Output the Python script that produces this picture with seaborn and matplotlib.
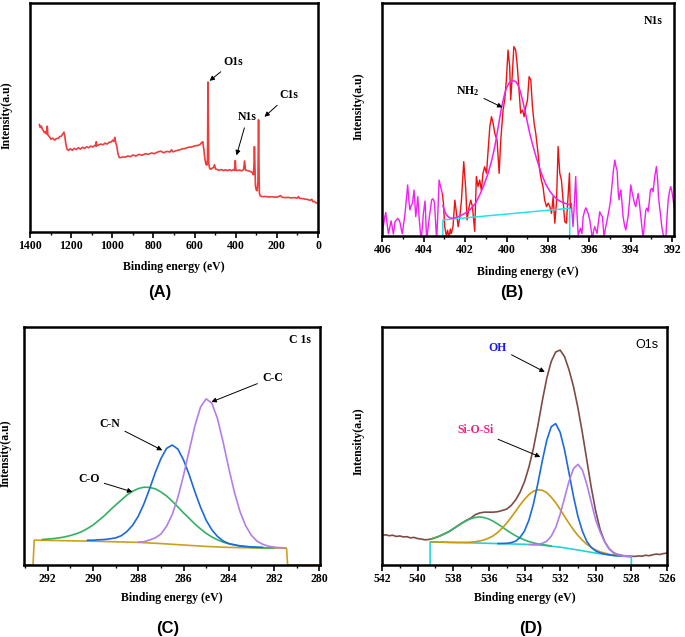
import numpy as np
import matplotlib
matplotlib.use("Agg")
import matplotlib.pyplot as plt
import seaborn as sns
from matplotlib.ticker import MultipleLocator

# ---------------- (A) survey spectrum ----------------
survey_energy = [1355, 1350, 1345, 1340, 1335, 1330, 1325, 1320, 1316, 1313,
                 1305, 1298, 1290, 1280, 1272, 1262, 1255, 1248, 1240, 1235,
                 1231, 1226, 1220, 1212, 1204, 1195, 1185, 1175, 1165, 1155,
                 1145, 1135, 1125, 1115, 1105, 1095, 1086, 1080, 1078, 1075,
                 1065, 1055, 1045, 1035, 1025, 1015, 1005, 998, 992, 988,
                 983, 978, 972, 966, 958, 948, 938, 925, 912, 900,
                 885, 870, 855, 840, 825, 810, 795, 780, 765, 750,
                 735, 720, 712, 705, 690, 675, 660, 645, 630, 615,
                 600, 585, 575, 566, 560, 555, 550, 545, 540, 537,
                 535, 533, 531, 527, 520, 515, 508, 503, 498, 490,
                 480, 470, 460, 450, 440, 430, 420, 410, 405, 402,
                 399, 392, 382, 372, 362, 357, 352, 342, 332, 325,
                 318, 314, 311, 309, 307, 304, 300, 296, 292, 290,
                 289, 287, 285, 281, 276, 270, 255, 240, 225, 210,
                 195, 182, 175, 160, 145, 130, 115, 100, 95, 90,
                 75, 60, 50, 40, 30, 25, 18, 10, 2]
survey_counts = [47.0, 45.6, 46.3, 44.9, 44.2, 43.4, 43.9, 42.8, 46.2, 42.3,
                 41.6, 40.5, 41.0, 40.1, 40.8, 40.9, 41.7, 41.8, 42.9, 43.6,
                 42.0, 38.6, 36.1, 35.6, 36.4, 35.7, 36.5, 36.0, 36.8, 36.2,
                 37.0, 36.5, 37.2, 36.8, 37.5, 37.1, 37.8, 37.5, 39.4, 37.6,
                 38.1, 38.4, 38.1, 38.8, 38.4, 39.2, 39.3, 40.1, 39.5, 41.3,
                 39.0, 37.4, 34.0, 32.5, 32.5, 32.8, 32.6, 33.2, 32.9, 33.6,
                 33.2, 33.9, 33.5, 34.2, 33.9, 34.5, 34.2, 34.9, 35.3, 34.6,
                 35.2, 34.9, 35.9, 35.0, 35.5, 35.8, 36.3, 36.5, 37.0, 37.1,
                 37.6, 37.8, 38.1, 39.0, 39.4, 36.0, 32.0, 29.6, 29.2, 32.0,
                 65.5, 45.0, 30.0, 27.8, 27.4, 27.9, 28.1, 29.4, 27.5, 27.3,
                 26.9, 27.3, 26.8, 27.2, 26.8, 27.2, 26.8, 27.3, 26.9, 31.2,
                 27.1, 26.8, 27.1, 26.7, 27.2, 31.0, 27.0, 26.8, 26.5, 26.3,
                 25.8, 25.0, 30.0, 37.3, 30.0, 20.0, 18.3, 18.0, 22.0, 40.0,
                 49.0, 30.0, 17.0, 15.8, 15.6, 15.4, 15.5, 15.3, 15.4, 15.2,
                 15.3, 15.9, 15.2, 15.0, 15.1, 14.9, 15.0, 14.8, 15.5, 14.7,
                 14.6, 14.3, 14.2, 13.8, 14.3, 13.2, 13.4, 12.8, 12.5]

# ---------------- (B) N1s ----------------
n_left_energy = [406.02, 405.95, 405.88, 405.84, 405.77, 405.71, 405.64, 405.58, 405.52, 405.47,
                 405.39, 405.32, 405.26, 405.20, 405.15, 405.09, 405.04, 404.97, 404.91, 404.84,
                 404.78, 404.72, 404.67, 404.61, 404.55, 404.47, 404.39, 404.34, 404.29, 404.23,
                 404.18, 404.13, 404.07, 404.02, 403.94, 403.86, 403.80, 403.73, 403.62, 403.56,
                 403.49, 403.43, 403.38, 403.32, 403.26, 403.17, 403.10]
n_left_counts = [2.0, 4.5, 8.5, 10.0, 5.0, 1.0, 4.0, 6.5, 3.5, 0.8,
                 6.2, 6.8, 7.6, 7.0, 5.8, 3.0, 1.0, 5.5, 9.5, 16.0,
                 21.9, 15.0, 11.2, 13.0, 14.0, 19.7, 8.3, 12.0, 16.9, 8.3,
                 3.0, -2.0, 4.0, 9.7, 15.0, -2.0, 3.0, 8.3, 15.5, 16.0,
                 14.7, 6.0, -2.0, 10.0, 24.0, 20.4, 18.0]

n_raw_energy = [403.10, 403.05, 402.99, 402.91, 402.85, 402.78, 402.72, 402.67, 402.59, 402.50,
                402.42, 402.34, 402.26, 402.18, 402.07, 401.97, 401.91, 401.81, 401.73, 401.65,
                401.54, 401.46, 401.38, 401.30, 401.22, 401.14, 401.06, 400.97, 400.89, 400.81,
                400.73, 400.65, 400.57, 400.46, 400.36, 400.28, 400.17, 400.09, 400.01, 399.93,
                399.85, 399.80, 399.72, 399.65, 399.56, 399.48, 399.40, 399.32, 399.23, 399.15,
                399.07, 398.99, 398.91, 398.83, 398.75, 398.67, 398.59, 398.48, 398.40, 398.32,
                398.24, 398.16, 398.07, 397.99, 397.91, 397.83, 397.75, 397.67, 397.59, 397.51,
                397.43, 397.35, 397.27, 397.19, 397.11, 397.03, 396.96, 396.92]
n_raw_counts = [18.0, 14.0, 4.0, 0.0, 2.5, -1.0, 3.0, 1.1, 4.0, 15.4,
                9.7, 4.0, 8.3, 15.4, 31.9, 19.7, 6.9, 12.6, 15.4, 12.6,
                2.0, 25.5, 21.2, 24.0, 19.7, 26.9, 29.7, 26.9, 36.9, 46.9,
                51.2, 48.4, 44.0, 41.2, 26.9, 41.2, 54.1, 58.4, 67.0, 79.8,
                72.7, 58.4, 69.8, 81.3, 79.8, 72.7, 62.7, 52.7, 54.1, 51.2,
                55.5, 58.4, 68.4, 67.0, 55.5, 48.4, 44.0, 35.5, 28.3, 24.0,
                21.2, 15.4, 12.6, 14.1, 12.6, 9.7, 16.9, 5.5, 14.1, 38.4,
                26.9, 24.0, 15.4, 6.2, 5.5, 16.9, 27.0, 12.0]

n_right_energy = [396.92, 396.87, 396.79, 396.72, 396.66, 396.60, 396.54, 396.48, 396.43, 396.36,
                  396.30, 396.22, 396.17, 396.06, 395.98, 395.92, 395.85, 395.80, 395.74, 395.63,
                  395.56, 395.50, 395.43, 395.37, 395.29, 395.23, 395.17, 395.05, 394.98, 394.93,
                  394.84, 394.77, 394.72, 394.66, 394.60, 394.56, 394.52, 394.48, 394.42, 394.37,
                  394.30, 394.24, 394.13, 394.06, 394.00, 393.94, 393.89, 393.82, 393.76, 393.70,
                  393.64, 393.58, 393.53, 393.45, 393.40, 393.34, 393.27, 393.21, 393.16, 393.10,
                  393.05, 392.98, 392.92, 392.84, 392.76, 392.70, 392.66, 392.60, 392.55, 392.50,
                  392.44, 392.38, 392.31, 392.25, 392.19, 392.13, 392.07, 392.01, 391.95, 391.90]
n_right_counts = [12.0, 14.0, 4.0, 15.0, 25.5, 10.0, 0.4, 2.0, 3.3, 1.0,
                  8.3, 11.0, 12.1, 9.7, 6.9, 3.0, -1.5, 2.0, 4.0, 1.1,
                  6.0, 10.4, 9.0, 8.3, -0.5, 3.0, 5.5, 11.2, 15.0, 19.7,
                  28.0, 32.6, 30.0, 28.3, 18.0, 15.5, 18.5, 19.7, 14.0, 8.3,
                  4.5, 2.6, 8.3, 15.0, 21.9, 19.0, 16.9, 14.0, 12.6, 15.5,
                  18.3, 14.0, 9.7, 3.0, -1.0, 5.0, 11.2, 12.0, 10.4, 15.0,
                  19.7, 20.5, 19.0, 25.5, 29.8, 24.0, 16.9, 12.0, 8.3, 4.0,
                  1.1, -1.5, -1.5, 8.0, 15.5, 19.0, 21.2, 19.0, 15.5, 12.0]

n_fit_energy = [403.08, 402.95, 402.85, 402.75, 402.65, 402.50, 402.26, 402.00, 401.78, 401.50,
                401.30, 401.10, 400.89, 400.73, 400.57, 400.40, 400.25, 400.10, 400.01, 399.88,
                399.77, 399.65, 399.56, 399.45, 399.36, 399.24, 399.12, 399.00, 398.88, 398.72,
                398.56, 398.40, 398.24, 398.08, 397.91, 397.75, 397.59, 397.43, 397.27, 397.10,
                396.95]
n_fit_counts = [13.0, 9.8, 8.5, 7.8, 7.6, 7.8, 8.6, 9.8, 11.2, 14.0,
                17.6, 21.8, 27.0, 32.0, 38.4, 47.0, 55.0, 60.8, 63.4, 65.6,
                66.4, 66.6, 66.3, 64.8, 62.7, 58.8, 54.1, 49.0, 44.0, 38.5,
                33.5, 29.0, 25.0, 21.8, 19.2, 17.4, 16.0, 15.0, 14.3, 13.8,
                13.4]

n_base_energy = [403.08, 403.08, 396.95, 396.95]
n_base_counts = [0.0, 6.9, 11.9, 0.0]

# ---------------- (C) C 1s ----------------
c_energy = [292.5, 292.25, 292.0, 291.75, 291.5, 291.25, 291.0, 290.75, 290.5, 290.25,
            290.0, 289.75, 289.5, 289.25, 289.0, 288.75, 288.5, 288.25, 288.0, 287.75,
            287.5, 287.25, 287.0, 286.75, 286.5, 286.25, 286.0, 285.75, 285.5, 285.25,
            285.0, 284.75, 284.5, 284.25, 284.0, 283.75, 283.5, 283.25, 283.0, 282.75,
            282.5, 282.25, 282.0, 281.75, 281.5]
nan = np.nan
c_co = [nan, 10.7, 10.9, 11.1, 11.4, 11.8, 12.4, 13.1, 14.0, 15.3,
        16.8, 18.7, 20.7, 23.0, 25.2, 27.3, 29.4, 31.0, 32.1, 32.7,
        32.6, 32.0, 30.7, 29.0, 26.8, 24.4, 21.9, 19.6, 17.2, 15.2,
        13.3, 11.8, 10.6, 9.6, 8.9, 8.4, 7.9, 7.7, 7.45, 7.3,
        7.25, 7.2, 7.15, nan, nan]
c_cn = [nan, nan, nan, nan, nan, nan, nan, nan, nan, 10.4,
        10.4, 10.6, 10.7, 11.0, 11.4, 12.3, 14.1, 16.7, 20.5, 25.7,
        32.0, 38.8, 44.7, 49.0, 50.4, 48.7, 44.1, 37.9, 30.8, 24.3,
        18.8, 14.8, 12.0, 10.1, 9.0, 8.5, 8.05, 7.8, 7.6, 7.5,
        7.4, nan, nan, nan, nan]
c_cc = [nan, nan, nan, nan, nan, nan, nan, nan, nan, nan,
        nan, nan, nan, nan, nan, nan, nan, nan, 9.6, 9.8,
        10.5, 11.4, 13.0, 16.3, 21.2, 28.4, 37.7, 48.1, 58.4, 66.3,
        69.8, 68.0, 61.5, 51.6, 40.6, 30.5, 22.3, 16.4, 12.4, 10.0,
        8.7, 7.9, 7.5, 7.3, 7.2]
c_base_energy = [293.05, 292.65, 292.6, 290.0, 288.0, 287.0, 286.0, 285.0, 284.0, 283.0,
                 281.45, 281.4, 279.97]
c_base_counts = [0.0, 0.0, 10.45, 10.0, 9.5, 9.0, 8.4, 7.8, 7.4, 7.2,
                 7.1, 0.0, 0.0]

# ---------------- (D) O1s ----------------
o_energy = [539.25, 539.0, 538.75, 538.5, 538.25, 538.0, 537.75, 537.5, 537.25, 537.0,
            536.75, 536.5, 536.25, 536.0, 535.75, 535.5, 535.25, 535.0, 534.75, 534.5,
            534.25, 534.0, 533.75, 533.5, 533.25, 533.0, 532.75, 532.5, 532.25, 532.0,
            531.75, 531.5, 531.25, 531.0, 530.75, 530.5, 530.25, 530.0, 529.75, 529.5,
            529.25, 529.0, 528.75, 528.5, 528.25, 528.0]
o_green = [10.9, 11.5, 12.2, 13.1, 14.0, 15.2, 16.4, 17.6, 18.65, 19.5,
           20.0, 20.2, 19.9, 19.3, 18.35, 17.2, 16.0, 14.6, 13.4, 12.3,
           11.35, 10.5, 9.85, 9.3, 8.9, 8.6, 8.3, 8.0, nan, nan,
           nan, nan, nan, nan, nan, nan, nan, nan, nan, nan,
           nan, nan, nan, nan, nan, nan]
o_gold = [9.7, 9.7, 9.6, 9.6, 9.5, 9.5, 9.45, 9.5, 9.5, 9.6,
          9.8, 10.1, 10.6, 11.3, 12.3, 13.7, 15.5, 17.6, 20.0, 22.6,
          25.2, 27.6, 29.6, 31.0, 31.6, 31.4, 30.4, 28.5, 26.2, 23.4,
          20.4, 17.5, 14.8, 12.4, 10.4, 8.7, 7.35, 6.3, 5.5, 5.0,
          4.5, 4.2, 4.0, 3.75, 3.6, 3.5]
o_blue = [nan, nan, nan, nan, nan, nan, nan, nan, nan, nan,
          nan, nan, nan, nan, nan, 9.0, 9.05, 9.1, 9.4, 10.0,
          11.6, 14.3, 18.9, 25.6, 34.3, 43.8, 52.4, 58.1, 59.4, 55.8,
          48.3, 38.6, 28.8, 20.4, 14.2, 9.9, 7.35, 5.9, 5.05, 4.6,
          4.25, 4.0, 3.9, 3.7, nan, nan]
o_purple = [nan, nan, nan, nan, nan, nan, nan, nan, nan, nan,
            nan, nan, nan, nan, nan, nan, nan, nan, nan, nan,
            nan, nan, 8.6, 8.6, 8.7, 9.1, 10.0, 12.1, 15.7, 21.3,
            28.2, 35.2, 40.5, 42.3, 39.9, 33.9, 26.3, 18.8, 13.8, 9.8,
            6.9, 5.2, 4.2, 3.8, 3.6, 3.5]
o_envelope = [10.9, 11.5, 12.2, 13.1, 14.0, 15.2, 16.5, 17.7, 18.8, 19.8,
              21.2, 21.9, 22.2, 22.2, 22.2, 22.4, 22.9, 23.5, 25.0, 27.3,
              30.55, 35.0, 41.2, 49.0, 58.5, 69.0, 78.5, 85.5, 89.5, 90.3,
              87.5, 82.0, 75.0, 66.0, 55.5, 44.0, 32.5, 22.5, 14.8, 9.8,
              6.8, 5.1, 4.4, 4.0, 3.8, 3.7]
o_left_energy = [542.0, 541.8, 541.6, 541.4, 541.2, 541.0, 540.8, 540.6, 540.4, 540.2,
                 540.0, 539.8, 539.6, 539.4]
o_left_counts = [12.4, 12.7, 12.3, 12.5, 12.0, 12.2, 11.8, 11.9, 11.4, 11.6,
                 11.1, 10.9, 10.6, 10.7]
o_right_energy = [527.8, 527.6, 527.4, 527.2, 527.0, 526.8, 526.6, 526.4, 526.2, 526.0]
o_right_counts = [3.6, 3.8, 3.7, 4.1, 3.9, 4.3, 4.6, 4.4, 4.8, 5.0]
o_base_energy = [539.3, 539.3, 537.0, 535.0, 534.0, 533.0, 532.0, 531.0, 530.0, 529.0,
                 528.0, 528.0]
o_base_counts = [0.0, 9.7, 9.3, 8.9, 8.7, 8.3, 7.5, 6.3, 5.0, 4.0,
                 3.5, 0.0]

# ---------------- style ----------------
sns.set_theme(style="ticks")
plt.rcParams["font.family"] = ["Liberation Serif", "DejaVu Serif"]
plt.rcParams["font.weight"] = "bold"
plt.rcParams["text.color"] = "black"
plt.rcParams["axes.labelcolor"] = "black"
plt.rcParams["xtick.color"] = "black"
plt.rcParams["mathtext.fontset"] = "custom"
plt.rcParams["mathtext.rm"] = "Liberation Serif:bold"
plt.rcParams["mathtext.bf"] = "Liberation Serif:bold"
plt.rcParams["mathtext.it"] = "Liberation Serif:bold:italic"

W, H = 685, 637
fig = plt.figure(figsize=(W / 100, H / 100), dpi=100)


def box(l, t, r, b):
    return [l / W, 1 - b / H, (r - l) / W, (b - t) / H]


axA = fig.add_axes(box(30, 3, 318, 232))
axB = fig.add_axes(box(382, 3, 674, 236))
axC = fig.add_axes(box(24, 327, 320, 565))
axD = fig.add_axes(box(382, 327, 667, 565))


def curve(ax, x, y, color, lw=1.1):
    sns.lineplot(x=x, y=y, ax=ax, color=color, linewidth=lw, sort=False,
                 estimator=None, legend=False)


def note(ax, text, xy, xytext, color="black", size=8.5):
    ax.annotate(text, xy=xy, xytext=xytext, ha="center", va="center",
                fontsize=size, fontweight="bold", color=color,
                arrowprops=dict(arrowstyle="-|>", color="black", lw=0.7,
                                mutation_scale=7, shrinkA=1, shrinkB=0))


def style(ax, xlim, major, minor, xl_y, yl_x, yl_y):
    ax.set_xlim(*xlim)
    ax.set_ylim(0, 100)
    ax.xaxis.set_major_locator(MultipleLocator(major))
    ax.xaxis.set_minor_locator(MultipleLocator(minor))
    ax.set_yticks([])
    ax.tick_params(axis="x", which="major", direction="out", length=4, width=1.2,
                   labelsize=8.5, pad=2, color="black", labelcolor="black")
    ax.tick_params(axis="x", which="minor", direction="out", length=2.5, width=1,
                   color="black")
    for s in ax.spines.values():
        s.set_visible(True)
        s.set_linewidth(1.8)
        s.set_color("black")
    ax.set_xlabel("Binding energy (eV)", fontsize=8.5, fontweight="bold", color="black")
    ax.set_ylabel("Intensity(a.u)", fontsize=8.5, fontweight="bold", color="black")
    ax.xaxis.set_label_coords(0.5, xl_y)
    ax.yaxis.set_label_coords(yl_x, yl_y)


# (A)
curve(axA, survey_energy, survey_counts, "#f03c3c", lw=1.2)
style(axA, (1400, 0), 200, 100, -0.125, -0.062, 0.51)
note(axA, "O1s", (527, 66), (412, 74.4))
note(axA, "C1s", (260, 50.3), (144, 59.8))
note(axA, "N1s", (396, 33.5), (343, 50.1))

# (B)
curve(axB, n_left_energy, n_left_counts, "#f21ef2", lw=1.0)
curve(axB, n_right_energy, n_right_counts, "#f21ef2", lw=1.0)
curve(axB, n_raw_energy, n_raw_counts, "#f01010", lw=1.0)
curve(axB, n_base_energy, n_base_counts, "#1ee6ea", lw=1.1)
curve(axB, n_fit_energy, n_fit_counts, "#f21ef2", lw=1.1)
style(axB, (406.02, 391.91), 2, 1, -0.128, -0.058, 0.555)
axB.text(392.9, 92.4, "N1s", ha="center", va="center", fontsize=8.5, fontweight="bold")
note(axB, r"NH$_2$", (400.2, 55.2), (401.88, 62.4))

# (C)
curve(axC, c_base_energy, c_base_counts, "#c9a21c", lw=1.2)
curve(axC, c_energy, c_co, "#33b060", lw=1.2)
curve(axC, c_energy, c_cn, "#1c68de", lw=1.2)
curve(axC, c_energy, c_cc, "#b57ee6", lw=1.2)
style(axC, (293.05, 279.97), 2, 1, -0.112, -0.041, 0.47)
axC.text(280.86, 94.7, "C 1s", ha="center", va="center", fontsize=8.5, fontweight="bold")
note(axC, "C-C", (284.77, 68.5), (282.08, 78.7))
note(axC, "C-N", (286.94, 48.2), (289.25, 59.4))
note(axC, "C-O", (288.26, 30.7), (290.18, 36.3))

# (D)
curve(axD, o_left_energy + o_energy + o_right_energy,
      o_left_counts + o_envelope + o_right_counts, "#7d4c44", lw=1.2)
curve(axD, o_base_energy, o_base_counts, "#22d4d8", lw=1.2)
curve(axD, o_energy, o_green, "#36b368", lw=1.2)
curve(axD, o_energy, o_gold, "#c89a12", lw=1.2)
curve(axD, o_energy, o_blue, "#1c6ade", lw=1.2)
curve(axD, o_energy, o_purple, "#b07ee8", lw=1.2)
style(axD, (542, 526), 2, 1, -0.115, -0.06, 0.52)
axD.text(527.12, 92.3, "O1s", ha="center", va="center", fontsize=9,
         fontweight="normal", family=["Liberation Sans", "DejaVu Sans"])
note(axD, "OH", (532.86, 81.1), (535.5, 91.3), color="#1a1af0")
note(axD, "Si-O-Si", (533.11, 45.4), (536.76, 56.8), color="#f0207f")

# panel letters
for label, (px, py) in {"(A)": (160, 293), "(B)": (512, 293),
                        "(C)": (168, 628), "(D)": (531, 628)}.items():
    fig.text(px / W, 1 - py / H, label, ha="center", va="center", fontsize=12,
             fontweight="bold", color="black",
             family=["Liberation Sans", "DejaVu Sans"])

fig.savefig("out.png", dpi=100)
